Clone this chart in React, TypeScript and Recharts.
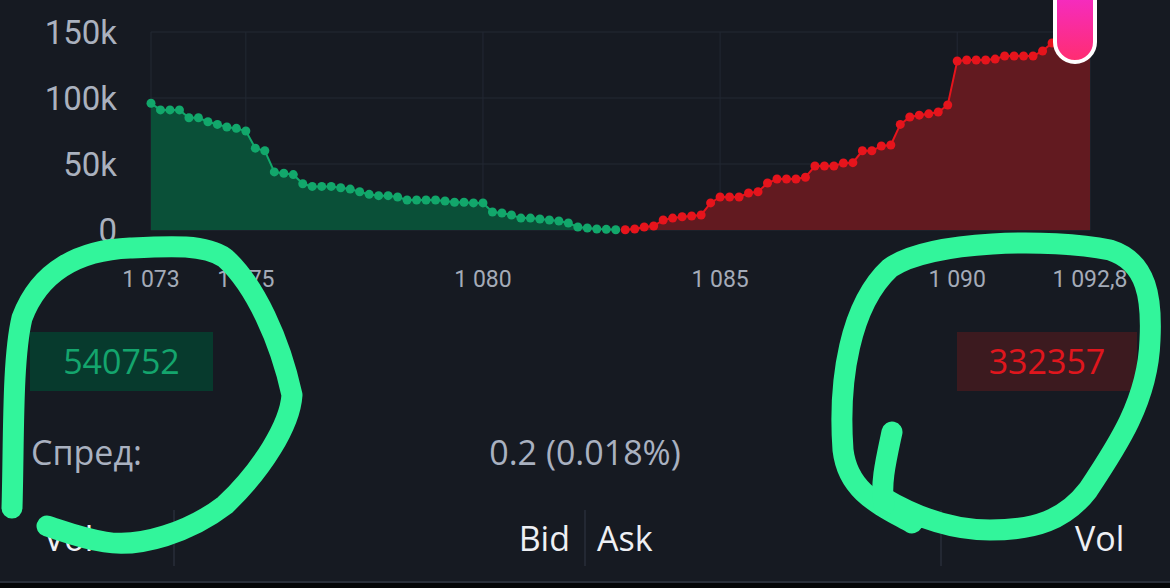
import { Area, AreaChart, CartesianGrid, XAxis, YAxis } from 'recharts'

// order book depth, price step 0.2
const bidPrices = [
  1073.0, 1073.2, 1073.4, 1073.6, 1073.8, 1074.0, 1074.2, 1074.4, 1074.6, 1074.8,
  1075.0, 1075.2, 1075.4, 1075.6, 1075.8, 1076.0, 1076.2, 1076.4, 1076.6, 1076.8,
  1077.0, 1077.2, 1077.4, 1077.6, 1077.8, 1078.0, 1078.2, 1078.4, 1078.6, 1078.8,
  1079.0, 1079.2, 1079.4, 1079.6, 1079.8, 1080.0, 1080.2, 1080.4, 1080.6, 1080.8,
  1081.0, 1081.2, 1081.4, 1081.6, 1081.8, 1082.0, 1082.2, 1082.4, 1082.6, 1082.8,
]
const bidDepth = [
  96000, 91000, 91000, 91000, 85000, 85000, 82000, 80000, 78000, 77000,
  75000, 62000, 60000, 44000, 43000, 42000, 35000, 33000, 33000, 33000,
  32000, 31000, 29000, 27000, 26000, 26000, 25000, 22700, 22700, 22700,
  22700, 22000, 21000, 21000, 20500, 20500, 13600, 12900, 11400, 9000,
  9000, 8300, 7600, 6800, 5300, 2300, 1500, 800, 500, 200,
]
const askPrices = [
  1083.0, 1083.2, 1083.4, 1083.6, 1083.8, 1084.0, 1084.2, 1084.4, 1084.6, 1084.8,
  1085.0, 1085.2, 1085.4, 1085.6, 1085.8, 1086.0, 1086.2, 1086.4, 1086.6, 1086.8,
  1087.0, 1087.2, 1087.4, 1087.6, 1087.8, 1088.0, 1088.2, 1088.4, 1088.6, 1088.8,
  1089.0, 1089.2, 1089.4, 1089.6, 1089.8, 1090.0, 1090.2, 1090.4, 1090.6, 1090.8,
  1091.0, 1091.2, 1091.4, 1091.6, 1091.8, 1092.0, 1092.2, 1092.4, 1092.6, 1092.8,
]
const askDepth = [
  200, 800, 2300, 3000, 7600, 9000, 10000, 10600, 11400, 20500,
  25000, 25000, 25000, 28000, 29000, 35600, 38600, 38600, 38600, 40000,
  48500, 48500, 48500, 50800, 51000, 60000, 60000, 63600, 64400, 80000,
  85600, 87000, 88000, 89400, 94700, 128000, 128800, 128800, 128800, 129500,
  131800, 131800, 131800, 131800, 135600, 141700, 145000, 146000, 147000, 148000,
]
const priceTicks = [1073, 1075, 1080, 1085, 1090, 1092.8]
const depthTicks = [0, 50000, 100000, 150000]

const bidTotal = '540752'
const askTotal = '332357'
const spreadLabel = 'Спред:'
const spreadValue = '0.2 (0.018%)'
const columnLabels = ['Vol', 'Bid', 'Ask', 'Vol']

const BG = '#161a22'
const BID_COLOR = '#12a76b'
const BID_FILL = '#0a5038'
const ASK_COLOR = '#e6141c'
const ASK_FILL = '#621a20'

const rows = [
  ...bidPrices.map((price, i) => ({ price, bid: bidDepth[i], ask: null as number | null })),
  ...askPrices.map((price, i) => ({ price, bid: null as number | null, ask: askDepth[i] })),
]

const formatPrice = (value: number) => {
  const [intPart, frac] = value.toFixed(1).split('.')
  const grouped = intPart.replace(/\B(?=(\d{3})+(?!\d))/g, ' ')
  return frac === '0' ? grouped : `${grouped},${frac}`
}

const formatDepth = (value: number) => (value === 0 ? '0' : `${value / 1000}k`)

const makeDot = (key: 'bid' | 'ask', color: string) => (props: any) => {
  const { cx, cy, payload, index } = props
  if (payload == null || payload[key] == null || cy == null) return <g key={`${key}-${index}`} />
  return <circle key={`${key}-${index}`} cx={cx} cy={cy} r={4.5} fill={color} />
}

function Annotations() {
  return (
    <svg
      width={1170}
      height={588}
      style={{ position: 'absolute', left: 0, top: 0, pointerEvents: 'none' }}
    >
      <g fill="none" stroke="#32f59b" strokeWidth={21} strokeLinecap="round" strokeLinejoin="round">
        <path d="M 12 508 C 14 440, 12 360, 22 318 C 40 270, 80 250, 130 248 C 170 246, 205 244, 225 258 C 255 285, 280 340, 292 395 C 290 425, 262 470, 225 505 C 190 532, 140 548, 105 542 C 80 538, 60 530, 47 526" />
        <path d="M 912 523 C 880 505, 848 492, 843 450 C 838 380, 850 305, 890 268 C 930 240, 1050 238, 1110 250 C 1148 262, 1152 300, 1150 340 C 1148 400, 1118 445, 1088 490 C 1065 520, 1035 530, 990 530 C 950 530, 912 515, 882 497" />
        <path d="M 892 432 C 886 460, 880 485, 884 505" />
      </g>
    </svg>
  )
}

function App() {
  const textFont = '"Open Sans", "Noto Sans", sans-serif'
  return (
    <div
      style={{
        position: 'absolute',
        left: 0,
        top: 0,
        width: 1170,
        height: 588,
        background: BG,
        overflow: 'hidden',
        fontFamily: textFont,
      }}
    >
      <AreaChart width={1170} height={300} data={rows} margin={{ top: 32, right: 80, bottom: 0, left: 0 }}>
        <CartesianGrid stroke="#222833" />
        <XAxis
          dataKey="price"
          type="number"
          domain={[1073, 1092.8]}
          ticks={priceTicks}
          interval={0}
          tickFormatter={formatPrice}
          axisLine={false}
          tickLine={false}
          height={70}
          tickMargin={35}
          tick={{ fill: '#a4abb8', fontSize: 23, fontFamily: 'Roboto' }}
        />
        <YAxis
          width={151}
          domain={[0, 150000]}
          ticks={depthTicks}
          interval={0}
          tickFormatter={formatDepth}
          axisLine={false}
          tickLine={false}
          tickMargin={28}
          tick={{ fill: '#aab1be', fontSize: 33, fontFamily: 'Roboto' }}
        />
        <Area
          type="linear"
          dataKey="bid"
          stroke={BID_COLOR}
          strokeWidth={2}
          fill={BID_FILL}
          fillOpacity={1}
          dot={makeDot('bid', BID_COLOR)}
          activeDot={false}
          isAnimationActive={false}
        />
        <Area
          type="linear"
          dataKey="ask"
          stroke={ASK_COLOR}
          strokeWidth={2}
          fill={ASK_FILL}
          fillOpacity={1}
          dot={makeDot('ask', ASK_COLOR)}
          activeDot={false}
          isAnimationActive={false}
        />
      </AreaChart>

      <div
        style={{
          position: 'absolute',
          left: 1053,
          top: -24,
          width: 36,
          height: 80,
          border: '4px solid #ffffff',
          borderRadius: '0 0 22px 22px',
          background: 'linear-gradient(#f22bd6, #ff2d72)',
        }}
      />

      <div
        style={{
          position: 'absolute',
          left: 30,
          top: 332,
          width: 183,
          height: 59,
          background: '#073a2d',
          color: '#14a56d',
          fontSize: 34,
          lineHeight: '59px',
          textAlign: 'center',
        }}
      >
        {bidTotal}
      </div>
      <div
        style={{
          position: 'absolute',
          left: 957,
          top: 332,
          width: 180,
          height: 59,
          background: '#3c1a1f',
          color: '#e0161d',
          fontSize: 34,
          lineHeight: '59px',
          textAlign: 'center',
        }}
      >
        {askTotal}
      </div>

      <div style={{ position: 'absolute', left: 31, top: 428, fontSize: 34, lineHeight: '48px', color: '#a9b1c0' }}>
        {spreadLabel}
      </div>
      <div
        style={{
          position: 'absolute',
          left: 385,
          width: 400,
          top: 428,
          fontSize: 34,
          lineHeight: '48px',
          color: '#a9b1c0',
          textAlign: 'center',
        }}
      >
        {spreadValue}
      </div>

      <div style={{ position: 'absolute', left: 44, top: 514, fontSize: 34, lineHeight: '48px', color: '#eef0f4' }}>
        {columnLabels[0]}
      </div>
      <div
        style={{
          position: 'absolute',
          left: 370,
          width: 200,
          top: 514,
          fontSize: 34,
          lineHeight: '48px',
          color: '#eef0f4',
          textAlign: 'right',
        }}
      >
        {columnLabels[1]}
      </div>
      <div style={{ position: 'absolute', left: 597, top: 514, fontSize: 34, lineHeight: '48px', color: '#eef0f4' }}>
        {columnLabels[2]}
      </div>
      <div style={{ position: 'absolute', left: 1075, top: 514, fontSize: 34, lineHeight: '48px', color: '#eef0f4' }}>
        {columnLabels[3]}
      </div>
      {[173, 584, 940].map((x) => (
        <div key={x} style={{ position: 'absolute', left: x, top: 510, width: 2, height: 56, background: '#232833' }} />
      ))}
      <div style={{ position: 'absolute', left: 0, top: 581, width: 1170, height: 2, background: '#2a2f3a' }} />
      <div style={{ position: 'absolute', left: 0, top: 583, width: 1170, height: 5, background: '#050608' }} />

      <Annotations />
    </div>
  )
}

export default App
